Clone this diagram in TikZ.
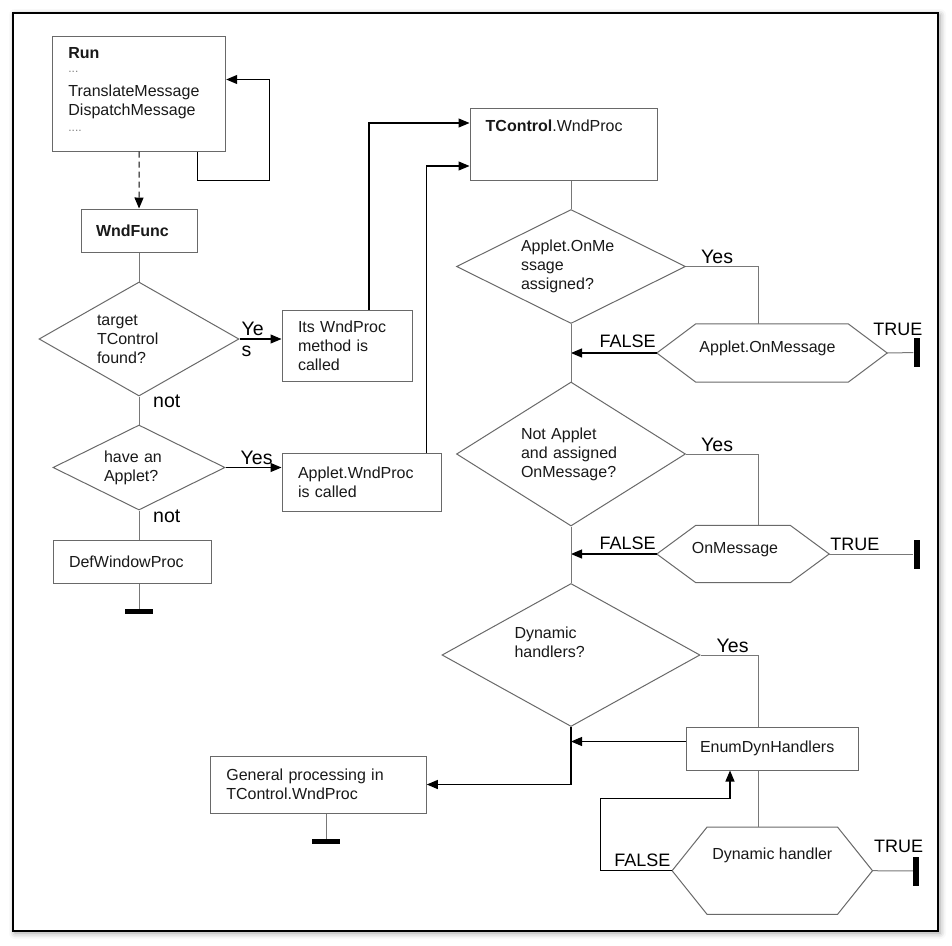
\documentclass[tikz,border=0pt]{standalone}
\usepackage{fontspec}
\setmainfont{Liberation Sans}
\usepackage{xcolor}
\usetikzlibrary{shapes.geometric,arrows.meta,positioning,shadows,shadows.blur}
\definecolor{lineGray}{RGB}{120,120,120}
\definecolor{boxGray}{RGB}{105,105,105}
\definecolor{textDark}{RGB}{25,25,25}
\newcommand{\dotsfont}{\fontsize{12}{12}\selectfont\color{gray}}
\newcommand{\hexoutline}[2]{%
  \draw[draw=boxGray, line width=1pt] (#1.west) -- ([xshift=#2]#1.north west) -- ([xshift=-#2]#1.north east)
    -- (#1.east) -- ([xshift=-#2]#1.south east) -- ([xshift=#2]#1.south west) -- cycle;}

\begin{document}
\begin{tikzpicture}[x=1pt, y=-1pt,
        every node/.style={font=\fontsize{16}{19}\selectfont, text=textDark},
        box/.style={rectangle, draw=boxGray, line width=1pt, align=left, inner xsep=16pt, inner ysep=0pt},
        decision/.style={diamond, draw=boxGray, line width=1pt, align=left, inner sep=0pt},
        hexa/.style={rectangle, inner sep=0pt},
        link/.style={draw=lineGray, line width=1pt},
        arrow/.style={draw=black, line width=1.1pt, -{Triangle[length=11pt,width=9pt]}},
        lbl/.style={font=\fontsize{19.5}{21}\selectfont, text=black, inner sep=0pt, align=left},
        flag/.style={font=\fontsize{18}{20}\selectfont, text=black, inner sep=0pt},
        endh/.style={fill=black, minimum width=28pt, minimum height=5pt, inner sep=0pt},
        endv/.style={fill=black, minimum width=6pt, minimum height=29pt, inner sep=0pt}
    ]
    \useasboundingbox (0,0) rectangle (952,945);

    % Cadre
    \draw[fill=white, line width=1.3pt, blur shadow={shadow xshift=2pt, shadow yshift=-2pt, shadow blur radius=6pt}] (13,13) rectangle (938,931);

    % Colonne gauche
    \node[box, minimum width=173pt, minimum height=115pt] (run) at (139.2,93.5) {};
    \node[inner sep=0pt, anchor=north west, align=left] (runtxt) at ([xshift=16pt,yshift=-12pt]run.north west) {\textbf{Run}\\[-5pt]{\dotsfont ...}\\[4.6pt]TranslateMessage\\DispatchMessage\\[-2.6pt]{\dotsfont ....}};
    \node[box, text width=86pt, minimum height=43pt, inner xsep=15pt] (wndfunc) at (139,230.5) {\textbf{WndFunc}};
    \node[decision, aspect=1.75, minimum width=200pt, minimum height=114pt, text width=84pt] (found) at (139,339) {target\\TControl\\found?};
    \node[decision, aspect=2, minimum width=172pt, minimum height=85pt, text width=70pt] (hasapplet) at (139,467.5) {have an\\Applet?};
    \node[box, text width=126pt, minimum height=43pt] (defproc) at (132,561.5) {DefWindowProc};
    \node[endh] (endA) at (139,611.5) {};

    % Colonne du milieu
    \node[box, text width=98pt, minimum height=71pt] (itsproc) at (347,345.5) {Its WndProc\\method is\\called};
    \node[box, text width=127pt, minimum height=58pt] (appletproc) at (361.5,482) {Applet.WndProc\\is called};
    \node[box, text width=184pt, minimum height=57pt] (general) at (318.3,784.5) {General processing in\\TControl.WndProc};
    \node[endh] (endB) at (326,841.5) {};

    % Colonne droite
    \node[box, minimum width=187pt, minimum height=72pt] (tcontrol) at (563.5,144) {};
    \node[inner sep=0pt, anchor=north west] (tcontroltxt) at ([xshift=16pt,yshift=-12pt]tcontrol.north west) {\textbf{TControl}.WndProc};
    \node[decision, aspect=2, minimum width=229pt, minimum height=114pt, text width=100pt] (onmsgset) at (571,266.5) {Applet.OnMe\\ssage\\assigned?};
    \node[decision, aspect=1.6, minimum width=229pt, minimum height=144pt, text width=100pt] (notapplet) at (571,454) {Not Applet\\and assigned\\OnMessage?};
    \node[decision, aspect=1.8, minimum width=258pt, minimum height=143pt, text width=113pt] (dynq) at (571,655) {Dynamic\\handlers?\\[7pt]\mbox{}};
    \node[box, text width=144pt, minimum height=43pt, inner xsep=14pt] (enumdyn) at (772,748.5) {EnumDynHandlers};

    % Hexagones
    \node[hexa, minimum width=230pt, minimum height=58pt] (appmsg) at (772,353) {};
    \node (appmsgtxt) at ([xshift=-4.5pt,yshift=5pt]appmsg.center) {Applet.OnMessage};
    \node[hexa, minimum width=172pt, minimum height=57pt] (onmsg) at (743,554) {};
    \node (onmsgtxt) at ([xshift=-8pt,yshift=4pt]onmsg.center) {OnMessage};
    \node[hexa, minimum width=200pt, minimum height=87pt] (dynhandler) at (772.3,870.7) {};
    \node (dynhandlertxt) at ([yshift=15pt]dynhandler.center) {Dynamic handler};
    \hexoutline{appmsg}{39pt}
    \hexoutline{onmsg}{39pt}
    \hexoutline{dynhandler}{35pt}
    \node[endv] (endC) at (916.5,352.5) {};
    \node[endv] (endD) at (916.5,554) {};
    \node[endv] (endE) at (916,871) {};

    % Liens
    \draw[arrow, dash pattern=on 6pt off 4pt] (run) -- (wndfunc);
    \draw[arrow] ([xshift=58pt]run.south) -- ++(0,29) -- ++(72,0) |- ([yshift=14pt]run.east);
    \draw[link] (wndfunc) -- (found);
    \draw[arrow] (found.east) -- (itsproc.west |- found.east);
    \draw[link] (found) -- (hasapplet);
    \draw[arrow] (hasapplet.east) -- (appletproc.west |- hasapplet.east);
    \draw[link] (hasapplet.south) -- (hasapplet.south |- defproc.north);
    \draw[link] (endA |- defproc.south) -- (endA.north);
    \draw[arrow] ([xshift=22pt]itsproc.north) |- ([yshift=21pt]tcontrol.west);
    \draw[arrow] ([xshift=65pt]appletproc.north) |- ([yshift=-22pt]tcontrol.west);
    \draw[link] (onmsgset.north |- tcontrol.south) -- (onmsgset.north);
    \draw[link] (onmsgset.east) -| ([xshift=-14pt]appmsg.north);
    \draw[arrow] (appmsg.west) -- (appmsg.west -| onmsgset.south);
    \draw[link] (appmsg.east) -- (endC);
    \draw[link] (onmsgset.south) -- (notapplet.north);
    \draw[link] (notapplet.east) -| ([xshift=15pt]onmsg.north);
    \draw[arrow] (onmsg.west) -- (onmsg.west -| notapplet.south);
    \draw[link] (onmsg.east) -- (endD);
    \draw[link] (notapplet.south) -- (dynq.north);
    \draw[link] (dynq.east) -| ([xshift=-14pt]enumdyn.north);
    \draw[arrow] ([yshift=7pt]enumdyn.west) -- ([yshift=7pt]enumdyn.west -| dynq.south);
    \draw[arrow] (dynq.south) |- (general.east);
    \draw[link] (endB |- general.south) -- (endB.north);
    \draw[link] ([xshift=-14pt]enumdyn.south) -- ([xshift=-14pt]enumdyn.south |- dynhandler.north);
    \draw[arrow] (dynhandler.west) -- ++(-72,0) -- ++(0,-72) -| ([xshift=-42pt]enumdyn.south);
    \draw[link] (dynhandler.east) -- (endE);

    % Etiquettes
    \node[lbl, anchor=west] (yesA) at ([xshift=2pt]found.east) {Ye\\s};
    \node[lbl, anchor=west] (notA) at ([xshift=14pt,yshift=-5pt]found.south) {not};
    \node[lbl, anchor=south west] (yesB) at ([xshift=15pt,yshift=2.5pt]hasapplet.east) {Yes};
    \node[lbl, anchor=west] (notB) at ([xshift=14pt,yshift=-6pt]hasapplet.south) {not};
    \node[lbl, anchor=south west] (yesC) at ([xshift=15pt,yshift=2.5pt]onmsgset.east) {Yes};
    \node[lbl, anchor=south west] (yesD) at ([xshift=15pt,yshift=2.5pt]notapplet.east) {Yes};
    \node[lbl, anchor=south west] (yesE) at ([xshift=16pt,yshift=2.5pt]dynq.east) {Yes};
    \node[flag, anchor=south east] (falseA) at ([xshift=-1pt,yshift=5pt]appmsg.west) {FALSE};
    \node[flag, anchor=south east] (falseB) at ([xshift=-1pt,yshift=4pt]onmsg.west) {FALSE};
    \node[flag, anchor=south east] (falseC) at ([xshift=-1.5pt,yshift=4pt]dynhandler.west) {FALSE};
    \node[flag, anchor=south west] (trueA) at ([xshift=-14pt,yshift=17pt]appmsg.east) {TRUE};
    \node[flag, anchor=south west] (trueB) at ([xshift=1pt,yshift=3pt]onmsg.east) {TRUE};
    \node[flag, anchor=south west] (trueC) at ([xshift=1.5pt,yshift=18pt]dynhandler.east) {TRUE};

\end{tikzpicture}
\end{document}
